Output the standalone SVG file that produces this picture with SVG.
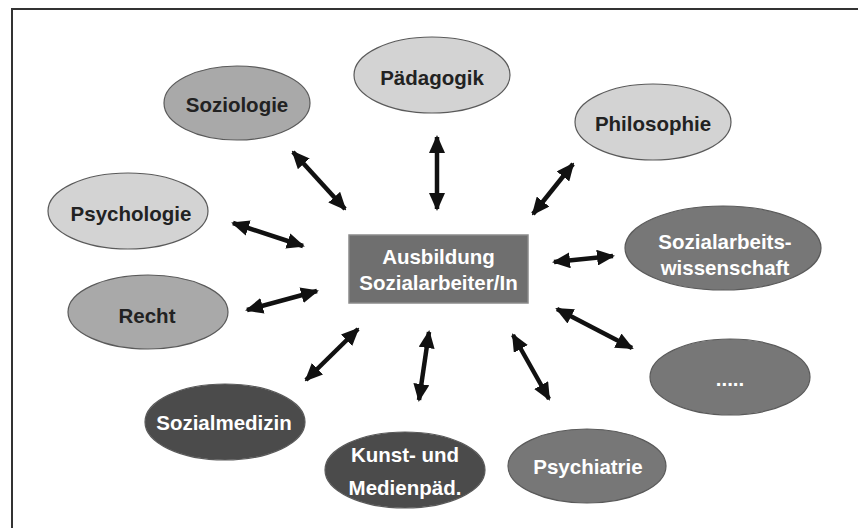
<svg xmlns="http://www.w3.org/2000/svg" width="858" height="528" viewBox="0 0 858 528">
<style>
.t{font-family:"Liberation Sans",Arial,sans-serif;font-weight:bold;font-size:20.5px;text-anchor:middle;dominant-baseline:central}
.dk{fill:#222}
.wt{fill:#fff}
.e{stroke:#5a5a5a;stroke-width:1.2}
.l1{fill:#d3d3d3}
.l2{fill:#a9a9a9}
.l3{fill:#777}
.l4{fill:#4b4b4b}
.a{stroke:#111;stroke-width:4.5;fill:none;marker-start:url(#ah);marker-end:url(#ah)}
</style>
<defs>
<marker id="ah" markerUnits="userSpaceOnUse" markerWidth="18" markerHeight="16" refX="16" refY="8" orient="auto-start-reverse" viewBox="0 0 18 16">
<path d="M0,0 L18,8 L0,16 Z" fill="#111"/>
</marker>
</defs>
<rect x="0" y="0" width="858" height="528" fill="#fff"/>
<path d="M12,528 V9 H858" fill="none" stroke="#333" stroke-width="2"/>
<g id="connectors">
<line class="a" x1="293" y1="152" x2="345" y2="209"/>
<line class="a" x1="437" y1="137" x2="437" y2="209"/>
<line class="a" x1="573" y1="164" x2="533" y2="214"/>
<line class="a" x1="233" y1="223" x2="303" y2="246"/>
<line class="a" x1="554" y1="262" x2="613" y2="256"/>
<line class="a" x1="247" y1="310" x2="317" y2="291"/>
<line class="a" x1="557" y1="309" x2="632" y2="348"/>
<line class="a" x1="358" y1="329" x2="306" y2="380"/>
<line class="a" x1="429" y1="332" x2="419" y2="400"/>
<line class="a" x1="513" y1="335" x2="549" y2="399"/>
</g>
<g id="center">
<rect x="349" y="235" width="179" height="68" fill="#6f6f6f" stroke="#8a8a8a" stroke-width="1.5"/>
<text class="t wt" x="438.5" y="256">Ausbildung</text>
<text class="t wt" x="438.5" y="282">Sozialarbeiter/In</text>
</g>
<g id="paedagogik">
<ellipse class="e l1" cx="432" cy="75" rx="78" ry="38"/>
<text class="t dk" x="432" y="77">Pädagogik</text>
</g>
<g id="soziologie">
<ellipse class="e l2" cx="237" cy="103" rx="73" ry="37"/>
<text class="t dk" x="237" y="104">Soziologie</text>
</g>
<g id="philosophie">
<ellipse class="e l1" cx="653" cy="122" rx="78" ry="38"/>
<text class="t dk" x="653" y="123">Philosophie</text>
</g>
<g id="psychologie">
<ellipse class="e l1" cx="128" cy="211" rx="80" ry="38"/>
<text class="t dk" x="131" y="213">Psychologie</text>
</g>
<g id="recht">
<ellipse class="e l2" cx="148" cy="312" rx="80" ry="37"/>
<text class="t dk" x="147" y="315">Recht</text>
</g>
<g id="sozialarbeitswissenschaft">
<ellipse class="e l3" cx="723" cy="248" rx="98" ry="42"/>
<text class="t wt" x="725" y="241">Sozialarbeits-</text>
<text class="t wt" x="725" y="267">wissenschaft</text>
</g>
<g id="weitere">
<ellipse class="e l3" cx="730" cy="377" rx="80" ry="38"/>
<text class="t wt" x="730" y="378">.....</text>
</g>
<g id="sozialmedizin">
<ellipse class="e l4" cx="225" cy="422" rx="80" ry="38"/>
<text class="t wt" x="224" y="422">Sozialmedizin</text>
</g>
<g id="kunst">
<ellipse class="e l4" cx="405" cy="470" rx="80" ry="38"/>
<text class="t wt" x="405" y="454">Kunst- und</text>
<text class="t wt" x="405" y="487">Medienpäd.</text>
</g>
<g id="psychiatrie">
<ellipse class="e l3" cx="587" cy="466" rx="79" ry="37"/>
<text class="t wt" x="588" y="466">Psychiatrie</text>
</g>
</svg>
